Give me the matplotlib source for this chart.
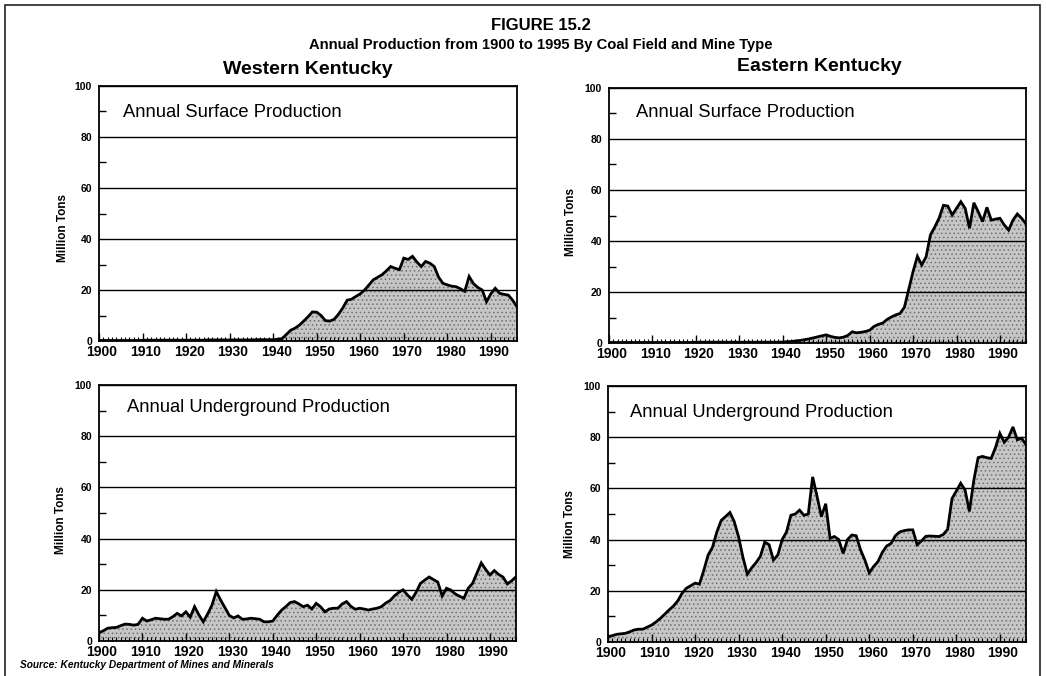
import matplotlib
matplotlib.use('Agg')
import matplotlib.pyplot as plt
import matplotlib.transforms as mtransforms
from matplotlib.patches import Rectangle

plt.rcParams['font.family'] = ['Liberation Sans', 'DejaVu Sans']
plt.rcParams['hatch.linewidth'] = 0.6

years = list(range(1900, 1997))

wk_surface = [
    0.2, 0.2, 0.2, 0.2, 0.2, 0.2, 0.2, 0.2, 0.2, 0.2,
    0.3, 0.3, 0.3, 0.3, 0.3, 0.3, 0.3, 0.3, 0.3, 0.3,
    0.3, 0.3, 0.3, 0.3, 0.3, 0.4, 0.4, 0.4, 0.4, 0.4,
    0.4, 0.4, 0.4, 0.4, 0.4, 0.4, 0.5, 0.5, 0.5, 0.5,
    0.5, 0.7, 0.9, 2.5, 4.2, 5.0, 6.2, 7.8, 9.5, 11.4,
    11.3, 10.0, 8.0, 7.8, 8.5, 10.5, 13.0, 16.0, 16.4, 17.5,
    18.5, 20.0, 22.0, 24.0, 25.0, 26.0, 27.5, 29.2, 28.5, 28.0,
    32.5, 32.0, 33.2, 31.0, 29.2, 31.2, 30.5, 29.2, 25.0, 22.6,
    22.0, 21.5, 21.3, 20.5, 19.5, 25.3, 22.5, 21.0, 20.0, 15.4,
    18.5, 20.7, 18.7, 18.3, 18.0, 16.0, 13.4,
]

ek_surface = [
    0.2, 0.2, 0.2, 0.2, 0.2, 0.2, 0.2, 0.2, 0.2, 0.2,
    0.2, 0.2, 0.2, 0.2, 0.2, 0.2, 0.2, 0.2, 0.2, 0.2,
    0.3, 0.3, 0.3, 0.3, 0.3, 0.3, 0.3, 0.3, 0.3, 0.3,
    0.3, 0.3, 0.3, 0.3, 0.3, 0.3, 0.3, 0.3, 0.3, 0.3,
    0.4, 0.5, 0.6, 0.8, 1.0, 1.3, 1.6, 2.0, 2.4, 2.8,
    3.2, 2.6, 2.2, 2.0, 2.3, 3.0, 4.4, 4.0, 4.2, 4.5,
    5.0, 6.5, 7.3, 7.8, 9.2, 10.2, 11.0, 11.6, 14.0, 21.0,
    28.0, 34.0, 30.6, 33.8, 42.4, 45.5, 49.0, 54.0, 53.7, 50.2,
    52.8, 55.4, 52.8, 45.0, 55.0, 51.5, 47.6, 53.2, 48.2, 48.6,
    48.9, 46.3, 44.3, 48.2, 50.6, 48.9, 46.7,
]

wk_underground = [
    3.2, 4.0, 5.0, 5.2, 5.3, 6.0, 6.6, 6.5, 6.2, 6.5,
    8.9, 7.8, 8.3, 8.9, 8.7, 8.5, 8.5, 9.5, 10.8, 9.8,
    11.4, 9.3, 13.4, 10.2, 7.5, 10.5, 14.0, 19.3, 16.0, 13.0,
    10.0, 9.0, 9.8, 8.5, 8.6, 8.9, 8.7, 8.5, 7.5, 7.5,
    7.8, 10.0, 12.0, 13.4, 15.0, 15.4, 14.5, 13.4, 14.0, 12.5,
    14.7, 13.4, 11.4, 12.5, 12.8, 12.8, 14.5, 15.4, 13.5, 12.4,
    12.8, 12.5, 12.1, 12.5, 12.8, 13.4, 14.8, 15.8, 17.6, 19.0,
    20.0, 18.0, 16.3, 19.0, 22.5, 23.8, 25.0, 24.0, 23.0, 17.6,
    20.6, 19.9, 18.4, 17.5, 16.7, 20.6, 22.5, 26.5, 30.5, 28.0,
    25.8, 27.5, 26.0, 25.0, 22.3, 23.5, 25.1,
]

ek_underground = [
    2.0, 2.5, 3.0, 3.2, 3.4, 4.0, 4.7, 5.0, 5.0, 5.8,
    6.6, 7.8, 9.2, 10.8, 12.5, 14.0, 16.0, 19.0, 21.0, 22.0,
    23.0, 22.6, 28.0, 34.0, 37.0, 43.0, 47.5, 49.0, 50.6, 47.0,
    41.0, 33.0, 26.5, 29.0, 31.0, 33.5, 39.0, 38.0, 32.0, 34.0,
    40.0, 43.0, 49.5, 50.0, 51.5, 49.5, 50.0, 64.5, 57.0, 49.0,
    54.0, 40.5, 41.2, 40.0, 34.6, 40.0, 41.8, 41.5, 36.0, 32.0,
    27.0, 29.5, 31.4, 35.0, 37.5, 38.5, 41.5, 43.0, 43.5, 43.8,
    43.8, 38.0, 39.5, 41.3, 41.4, 41.3, 41.2, 42.0, 44.0, 56.0,
    59.0, 62.0, 59.4, 51.0, 63.0, 72.0, 72.5, 72.0, 71.7, 76.0,
    81.5, 78.0, 80.0, 84.0, 79.0, 79.6, 77.0,
]

decade_ticks = [1900, 1910, 1920, 1930, 1940, 1950, 1960, 1970, 1980, 1990]
decade_labels = ['1900', '1910', '1920', '1930', '1940', '1950', '1960', '1970', '1980', '1990']
y_ticks = [0, 20, 40, 60, 80, 100]
y_labels = ['0', '20', '40', '60', '80', '100']

fig = plt.figure(figsize=(10.46, 6.76), dpi=100)
fig.patch.set_facecolor('white')

# outer frame
fig.add_artist(Rectangle((5 / 1046, -0.01), 1035 / 1046, 1 - 5 / 676 + 0.01,
                         transform=fig.transFigure, fill=False,
                         edgecolor='#222222', linewidth=1.2))

fig.text(0.517, 0.962, 'FIGURE 15.2', ha='center', va='center',
         fontsize=12, fontweight='bold')
fig.text(0.517, 0.934, 'Annual Production from 1900 to 1995 By Coal Field and Mine Type',
         ha='center', va='center', fontsize=10.6, fontweight='bold')
fig.text(0.294, 0.897, 'Western Kentucky', ha='center', va='center',
         fontsize=14, fontweight='bold')
fig.text(0.783, 0.901, 'Eastern Kentucky', ha='center', va='center',
         fontsize=14, fontweight='bold')
fig.text(20 / 1046, 1 - 665 / 676, 'Source: Kentucky Department of Mines and Minerals',
         ha='left', va='center', fontsize=7.3, fontweight='bold', style='italic')

panels = [
    ([99 / 1046, 1 - 341 / 676, 418 / 1046, 255 / 676], wk_surface,
     'Annual Surface Production', 0.057, 0.898, (-0.087, 0.443)),
    ([609 / 1046, 1 - 343 / 676, 417 / 1046, 255 / 676], ek_surface,
     'Annual Surface Production', 0.065, 0.902, (-0.092, 0.475)),
    ([99 / 1046, 1 - 641 / 676, 417 / 1046, 256 / 676], wk_underground,
     'Annual Underground Production', 0.067, 0.914, (-0.091, 0.473)),
    ([608 / 1046, 1 - 642 / 676, 418 / 1046, 256 / 676], ek_underground,
     'Annual Underground Production', 0.053, 0.898, (-0.092, 0.461)),
]

label_shift = mtransforms.ScaledTranslation(3 / 100, 0, fig.dpi_scale_trans)

for rect, vals, label, tx, ty, ylab_pos in panels:
    ax = fig.add_axes(rect)
    ax.fill_between(years, vals, 0, facecolor='#c6c6c6', edgecolor='#707070',
                    hatch='....', linewidth=0, zorder=1)
    ax.plot(years, vals, color='black', linewidth=2.0, zorder=3,
            solid_joinstyle='miter')
    ax.set_xlim(1900, 1996)
    ax.set_ylim(0, 100)
    ax.set_axisbelow(False)
    ax.yaxis.grid(True, color='black', linewidth=1.0)
    ax.set_xticks(decade_ticks, decade_labels, fontsize=10, fontweight='bold')
    ax.set_xticks(years, minor=True)
    ax.set_yticks(y_ticks, y_labels, fontsize=7.5, fontweight='bold')
    ax.set_yticks([10, 30, 50, 70, 90], minor=True)
    ax.tick_params(axis='x', which='major', direction='in', length=6, width=1.0,
                   pad=3, color='black')
    ax.tick_params(axis='x', which='minor', direction='in', length=3, width=0.8,
                   color='black')
    ax.tick_params(axis='y', which='major', direction='in', length=0, pad=5)
    ax.tick_params(axis='y', which='minor', direction='in', length=5, width=1.0)
    for lbl in ax.get_xticklabels():
        lbl.set_transform(lbl.get_transform() + label_shift)
    for s in ax.spines.values():
        s.set_linewidth(1.3)
        s.set_color('black')
    ax.set_ylabel('Million Tons', fontsize=8.5, fontweight='bold',
                  verticalalignment='center')
    ax.yaxis.set_label_coords(*ylab_pos)
    ax.text(tx, ty, label, transform=ax.transAxes, ha='left', va='center',
            fontsize=13.2)

fig.savefig('out.png', dpi=100, facecolor='white')
